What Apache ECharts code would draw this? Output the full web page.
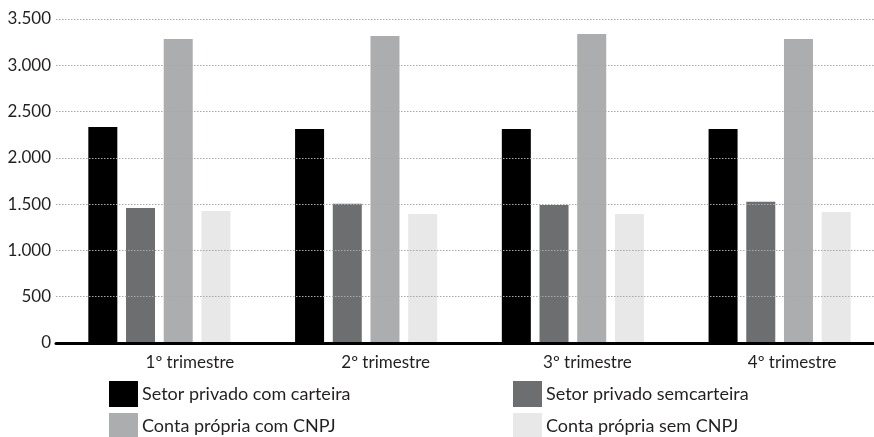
<!DOCTYPE html>
<html>
<head>
<meta charset="utf-8">
<script src="https://cdn.jsdelivr.net/npm/echarts@6/dist/echarts.min.js"></script>
<style>
  html, body { margin: 0; padding: 0; background: #fff; }
  #chart { width: 874px; height: 437px; }
</style>
</head>
<body>
<div id="chart"></div>
<script>
const categories = ['1º trimestre', '2º trimestre', '3º trimestre', '4º trimestre'];
const seriesNames = [
  'Setor privado com carteira',
  'Setor privado semcarteira',
  'Conta própria com CNPJ',
  'Conta própria sem CNPJ'
];
const comCarteira = [2333, 2312, 2312, 2312];
const semCarteira = [1458, 1505, 1490, 1525];
const comCnpj = [3284, 3316, 3338, 3284];
const semCnpj = [1426, 1394, 1394, 1415];
const yTicks = [0, 500, 1000, 1500, 2000, 2500, 3000, 3500];

const colors = ['#000000', '#6d6e70', '#acadaf', '#e7e8e7'];
const values = [comCarteira, semCarteira, comCnpj, semCnpj];
// labels in the original sit a bit right of each bar group
const labelPad = [61, 39, 29, 25];

const font = 'Lato, "Open Sans", sans-serif';
const chart = echarts.init(document.getElementById('chart'));

const legendBase = {
  top: 376,
  height: 90,
  orient: 'vertical',
  itemWidth: 29,
  itemHeight: 26,
  itemGap: 6,
  icon: 'rect',
  textStyle: { color: '#231f20', fontFamily: font, fontSize: 18, padding: [0, 0, 0, -1] }
};

const option = {
  animation: false,
  grid: { left: 56, width: 827, top: 19, bottom: 94, outerBoundsMode: 'none' },
  xAxis: {
    type: 'category',
    data: categories.map((c, i) => ({
      value: c,
      textStyle: { padding: [0, 0, 0, labelPad[i]] }
    })),
    z: 3,
    axisLine: { show: true, lineStyle: { color: '#000', width: 3 } },
    axisTick: { show: false },
    axisLabel: { color: '#231f20', fontFamily: font, fontSize: 17, margin: 11 }
  },
  yAxis: {
    type: 'value',
    min: 0,
    max: yTicks[yTicks.length - 1],
    interval: 500,
    z: 3,
    axisLine: { show: false },
    axisTick: { show: false },
    axisLabel: {
      color: '#231f20',
      fontFamily: font,
      fontSize: 17,
      margin: 5,
      formatter: (v) => v === 0 ? '0' : v.toLocaleString('de-DE')
    },
    splitLine: { lineStyle: { color: '#a8a8a8', type: [1.5, 1.5], width: 1 } }
  },
  legend: [
    Object.assign({}, legendBase, { left: 104, data: [seriesNames[0], seriesNames[2]] }),
    Object.assign({}, legendBase, { left: 508, data: [seriesNames[1], seriesNames[3]] })
  ],
  series: seriesNames.map((name, i) => ({
    name: name,
    type: 'bar',
    data: values[i],
    barWidth: 29,
    barGap: '30%',
    itemStyle: { color: colors[i] }
  }))
};

chart.setOption(option);
</script>
</body>
</html>
